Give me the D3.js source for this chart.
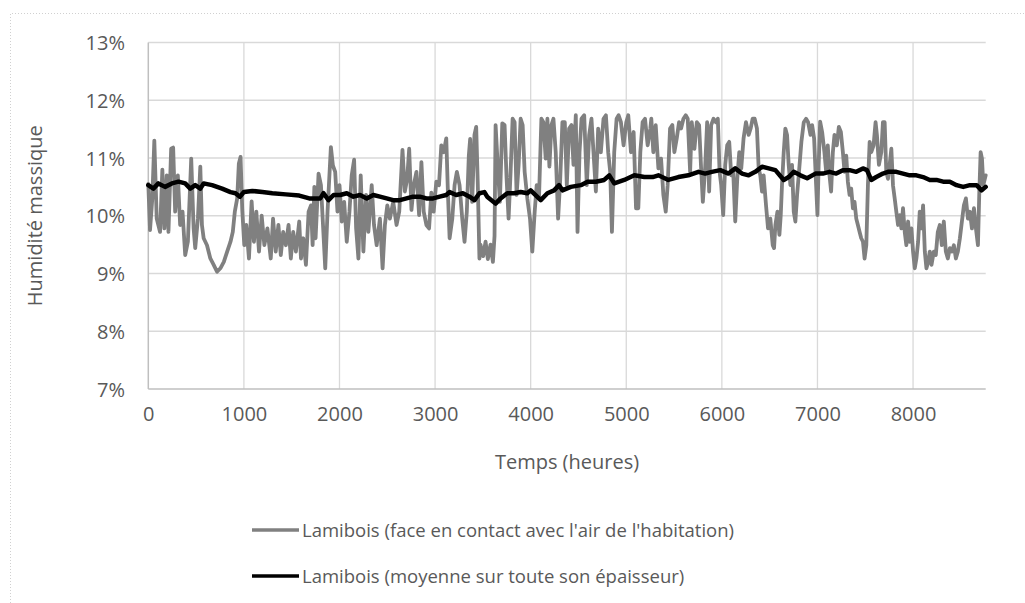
<!DOCTYPE html>
<html>
<head>
<meta charset="utf-8">
<script src="https://cdn.jsdelivr.net/npm/d3@7/dist/d3.min.js"></script>
<style>
  html, body { margin: 0; padding: 0; background: #fff; }
  svg { display: block; }
  text { font-family: "Open Sans", "Noto Sans", sans-serif; fill: #595959; }
</style>
</head>
<body>
<svg id="chart" width="1025" height="603"></svg>
<script>
// ---- Data ----
const xTicks = [0, 1000, 2000, 3000, 4000, 5000, 6000, 7000, 8000];
const yTicks = [7, 8, 9, 10, 11, 12, 13];
const xMax = 8760;
const seriesNames = [
  "Lamibois (face en contact avec l'air de l'habitation)",
  "Lamibois (moyenne sur toute son épaisseur)"
];
const xTitle = "Temps (heures)";
const yTitle = "Humidité massique";

// Surface series (hours, % moisture)
const surfaceHours = [
  0,18,42,63,88,123,147,168,193,211,239,260,281,309,333,358,386,414,449,474,491,519,544,561,579,614,649,684,719,754,790,825,860,884,905,930,947,965,983,1004,1025,1053,1081,1105,1130,1158,1186,1214,1246,1281,1305,1333,1361,1386,1411,1439,1467,1491,1516,1544,1579,1597,1621,1649,1677,1702,1719,1737,
  1750,1781,1806,1851,1875,1910,1931,1955,1979,2000,2024,2049,2076,2104,2128,2153,2174,2198,2222,2250,2278,2302,2337,2361,2389,2423,2451,2475,2500,2527,2562,2597,2625,2659,2684,2708,2729,2753,2777,2805,2833,2857,2881,2909,2937,2961,2985,3013,3041,3065,3090,3117,3135,3152,3180,3204,3228,3256,3284,3308,3332,3353,3367,3388,3412,3430,3447,3464,
  3475,3503,3528,3552,3580,3605,3622,3633,3657,3678,3703,3727,3748,3769,3790,3811,3832,3853,3874,3895,3916,3937,3965,3993,4017,4042,4063,4087,4112,4133,4157,4175,4196,4217,4238,4262,4287,4308,4332,4357,4378,4402,4427,4448,4472,4490,4511,4532,4560,4587,4612,4636,4657,4682,4706,4734,4762,4787,4811,4832,4850,4874,4899,4920,4944,4972,5000,5021,5049,5077,5102,5126,5147,5171,5196,5224,5252,
  5262,5283,5308,5336,5364,5388,5413,5433,5458,5482,5503,5528,5552,5573,5598,5622,5643,5668,5685,5713,5738,5762,5783,5801,5825,5846,5867,5888,5913,5937,5958,5976,5993,6014,6035,6056,6077,6098,6119,6140,6161,6182,6203,6227,6252,6280,6301,6322,6343,6367,6385,6402,6420,6437,6462,6483,6507,6532,6546,6560,6581,6602,6616,6629,6647,6664,6682,6699,6717,6734,6752,6769,6787,6804,6832,6857,6881,6902,6927,6944,6965,6986,7000,
  7012,7028,7049,7073,7091,7108,7126,7143,7161,7178,7203,7224,7245,7266,7283,7301,7318,7336,7353,7371,7388,7406,7423,7441,7458,7476,7493,7511,7528,7546,7563,7587,7608,7622,7643,7668,7685,7703,7720,7738,7755,7773,7790,7808,7825,7843,7860,7878,7895,7913,7930,7948,7965,7983,8000,8018,8035,8053,8070,8088,8105,8123,8140,8158,8175,8193,8217,8238,8259,8280,8301,8322,8343,8364,8385,8406,8427,8448,8469,8490,8511,8532,8553,8574,8595,8616,8637,8658,8679,8693,8707,8721,8735,8760
];
const surfaceValues = [
  10.55,9.75,10.3,11.3,9.95,9.72,10.8,9.78,10.7,9.72,11.16,11.18,10.07,10.7,9.84,10.07,9.32,9.55,10.99,9.78,9.44,9.95,10.85,9.84,9.61,9.49,9.26,9.15,9.03,9.09,9.2,9.38,9.55,9.72,10.07,10.3,10.9,11.02,10.1,9.49,9.84,9.26,10.25,9.55,10.07,9.38,10.0,9.49,9.78,9.26,9.95,9.38,9.84,9.32,9.72,9.49,9.84,9.26,9.72,9.38,9.9,9.26,9.61,9.15,10.07,10.18,9.49,10.5,
  9.61,10.73,10.53,9.09,10.07,11.19,10.87,10.76,10.07,10.53,9.9,10.24,9.55,10.07,10.7,10.97,9.78,9.26,10.7,9.38,10.36,9.72,10.53,9.84,9.49,9.95,9.09,9.84,10.18,9.95,10.24,9.84,10.07,11.14,10.42,10.64,11.16,10.1,10.53,10.76,10.01,10.93,10.07,9.84,9.78,10.4,10.07,10.59,10.53,11.22,11.1,11.34,10.36,9.61,9.95,10.53,10.76,10.53,9.95,9.55,10.07,11.04,11.33,10.24,11.4,11.54,10.53,9.26,
  9.5,9.3,9.55,9.25,9.5,9.2,9.65,11.57,10.82,10.24,11.6,11.57,10.65,9.95,10.76,11.68,11.62,10.36,10.88,11.68,11.57,10.76,10.3,9.95,9.38,10.07,10.53,10.3,11.68,11.62,10.99,11.68,10.85,11.57,11.68,11.1,9.95,10.59,11.62,11.62,10.53,11.51,11.57,10.88,11.74,9.72,11.1,11.68,11.74,10.53,11.4,11.68,11.1,10.42,11.51,11.1,11.68,11.74,11.1,10.76,9.72,11.1,11.68,11.74,11.62,11.22,11.62,11.74,11.1,11.45,10.13,10.13,11.1,11.62,11.68,11.22,11.51,
  11.68,11.1,11.57,10.82,10.99,10.36,10.07,10.53,11.51,11.57,11.1,11.34,11.62,11.51,11.68,11.74,11.68,10.76,11.62,11.16,11.62,11.57,10.82,10.24,10.82,11.62,10.42,11.57,11.68,11.62,11.68,10.76,10.53,10.01,10.88,11.22,11.28,10.7,10.76,9.9,10.64,11.1,10.82,11.34,11.62,11.4,11.51,11.68,11.68,11.51,10.82,10.7,10.42,10.7,10.18,9.78,9.95,9.49,9.44,9.84,10.07,9.67,10.01,10.53,11.1,11.51,11.4,10.88,10.53,10.88,10.07,9.9,10.36,10.7,11.28,11.62,11.68,11.62,11.4,11.57,11.34,10.53,10.01,
  10.85,11.63,11.45,11.1,10.76,11.22,10.7,10.42,11.1,11.4,11.22,11.54,11.45,11.1,10.76,11.04,10.59,10.36,10.47,10.13,10.24,9.95,9.84,9.72,9.61,9.55,9.26,9.49,10.53,11.28,11.1,11.22,11.62,11.4,10.88,11.1,11.62,11.62,10.76,10.64,10.88,11.16,10.53,10.3,10.07,9.84,10.01,9.78,10.13,9.72,9.49,9.9,9.55,9.78,9.38,9.09,9.26,9.55,10.07,9.78,10.18,9.38,9.09,9.2,9.38,9.15,9.38,9.32,9.72,9.84,9.49,9.9,9.38,9.26,9.44,9.38,9.49,9.26,9.38,9.61,9.9,10.18,10.3,9.95,10.07,9.78,10.13,9.78,9.49,10.4,11.1,10.99,10.53,10.7
];

// Mean series (hours, % moisture)
const meanHours = [
  0,53,105,175,246,316,386,439,491,544,579,667,772,860,912,958,1000,1088,1193,1298,1439,1579,1684,
  1799,1833,1885,1938,2007,2076,2146,2215,2285,2354,2423,2493,2562,2632,2701,2770,2840,2909,2979,3048,3117,3152,3221,3291,3360,3412,3464,3516,
  3545,3633,3685,3755,3825,3895,3965,4000,4105,4175,4245,4297,4332,4420,4525,4595,4682,4769,4822,4874,4979,5084,5189,
  5276,5336,5440,5545,5650,5755,5825,5895,5983,6070,6140,6210,6280,6350,6420,6490,6560,6647,6699,6752,6822,6892,6979,
  7056,7126,7196,7266,7336,7406,7476,7518,7563,7615,7685,7738,7825,7895,7965,8035,8105,8175,8245,8315,8385,8455,8525,8595,8665,8717,8760
];
const meanValues = [
  10.53,10.47,10.56,10.5,10.56,10.59,10.56,10.47,10.53,10.47,10.56,10.53,10.47,10.41,10.39,10.33,10.41,10.43,10.41,10.39,10.37,10.35,10.3,
  10.3,10.39,10.27,10.36,10.36,10.39,10.33,10.36,10.3,10.36,10.33,10.3,10.27,10.27,10.3,10.33,10.33,10.3,10.3,10.33,10.36,10.41,10.36,10.39,10.33,10.27,10.39,10.41,
  10.33,10.21,10.3,10.39,10.39,10.41,10.39,10.44,10.27,10.39,10.44,10.53,10.44,10.5,10.53,10.59,10.59,10.62,10.7,10.56,10.62,10.7,10.67,
  10.67,10.7,10.62,10.67,10.7,10.76,10.73,10.76,10.79,10.73,10.82,10.73,10.7,10.76,10.85,10.82,10.79,10.62,10.67,10.76,10.7,10.65,10.73,
  10.73,10.76,10.73,10.79,10.79,10.76,10.82,10.79,10.62,10.67,10.73,10.76,10.76,10.73,10.7,10.7,10.67,10.62,10.62,10.59,10.59,10.53,10.5,10.53,10.53,10.44,10.5
];

// ---- Drawing ----
const svg = d3.select("#chart");
const colors = ["#808080", "#000000"];

// outer dotted border (chart area, clipped at right/bottom)
svg.append("path")
  .attr("d", "M10.5,603 V13.5 H1025")
  .attr("fill", "none")
  .attr("stroke", "#d0d0d0")
  .attr("stroke-width", 1)
  .attr("stroke-dasharray", "1,2");

const x = d3.scaleLinear().domain([0, xMax]).range([148.3, 985.7]);
const y = d3.scaleLinear().domain([7, 13]).range([389, 42.5]);

// gridlines
const grid = svg.append("g");
grid.selectAll(".hg").data(yTicks.filter(d => d !== 7)).join("line")
  .attr("x1", x(0)).attr("x2", x(xMax))
  .attr("y1", d => y(d)).attr("y2", d => y(d))
  .attr("stroke", "#d9d9d9").attr("stroke-width", 1.3);
grid.selectAll(".vg").data(xTicks.filter(d => d !== 0)).join("line")
  .attr("x1", d => x(d)).attr("x2", d => x(d))
  .attr("y1", y(7)).attr("y2", y(13))
  .attr("stroke", "#d9d9d9").attr("stroke-width", 1.3);

// axes lines
svg.append("line").attr("x1", x(0)).attr("x2", x(0)).attr("y1", y(13)).attr("y2", y(7))
  .attr("stroke", "#bfbfbf").attr("stroke-width", 1.5);
svg.append("line").attr("x1", x(0)).attr("x2", x(xMax)).attr("y1", y(7)).attr("y2", y(7))
  .attr("stroke", "#bfbfbf").attr("stroke-width", 1.5);

// tick labels via d3 axes (domain/ticks hidden)
const yAxis = d3.axisLeft(y).tickValues(yTicks).tickFormat(d => d + "%").tickSize(0).tickPadding(0);
const gy = svg.append("g").attr("transform", "translate(125,0)").call(yAxis);
gy.select(".domain").remove();
gy.selectAll("text").attr("font-size", 20).attr("font-family", "Open Sans").attr("fill", "#595959").attr("dy", "0.36em");

const xAxis = d3.axisBottom(x).tickValues(xTicks).tickFormat(d3.format("d")).tickSize(0).tickPadding(0);
const gx = svg.append("g").attr("transform", "translate(0,407)").call(xAxis);
gx.select(".domain").remove();
gx.selectAll("text").attr("font-size", 20).attr("font-family", "Open Sans").attr("fill", "#595959").attr("dy", "0.71em");

// lines
const line = d3.line().x(d => x(d[0])).y(d => y(d[1]));
const surface = surfaceHours.map((h, i) => [h, surfaceValues[i]]);
const mean = meanHours.map((h, i) => [h, meanValues[i]]);

svg.append("path").datum(surface).attr("d", line)
  .attr("fill", "none").attr("stroke", colors[0]).attr("stroke-width", 3.8)
  .attr("stroke-linejoin", "round").attr("stroke-linecap", "round");
svg.append("path").datum(mean).attr("d", line)
  .attr("fill", "none").attr("stroke", colors[1]).attr("stroke-width", 4.5)
  .attr("stroke-linejoin", "round").attr("stroke-linecap", "round");

// axis titles
svg.append("text").attr("x", x(xMax / 2)).attr("y", 462).attr("dy", "0.36em")
  .attr("text-anchor", "middle").attr("font-size", 20).text(xTitle);
svg.append("text").attr("transform", `translate(35,${(y(7) + y(13)) / 2}) rotate(-90)`)
  .attr("dy", "0.36em").attr("text-anchor", "middle").attr("font-size", 20).text(yTitle);

// legend
const legendY = [530, 576];
const lg = svg.append("g");
seriesNames.forEach((name, i) => {
  lg.append("line").attr("x1", 252).attr("x2", 299).attr("y1", legendY[i]).attr("y2", legendY[i])
    .attr("stroke", colors[i]).attr("stroke-width", 3.5);
  lg.append("text").attr("x", 302).attr("y", legendY[i]).attr("dy", "0.36em")
    .attr("font-size", 18.5).text(name);
});
</script>
</body>
</html>
